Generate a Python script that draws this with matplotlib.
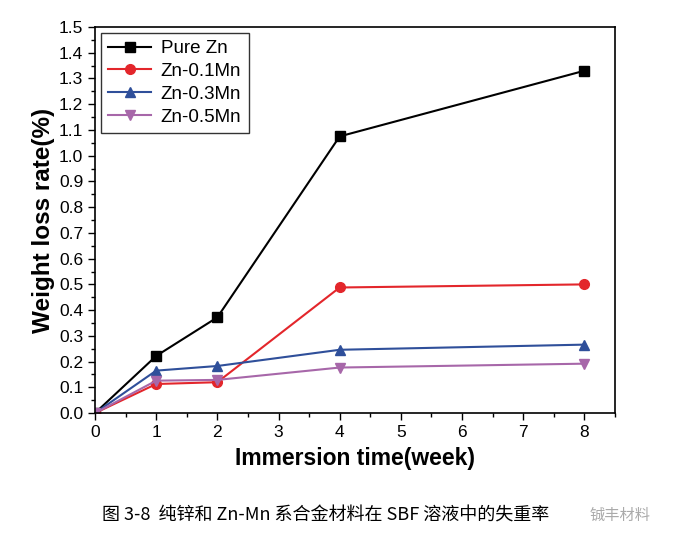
import matplotlib.pyplot as plt
from matplotlib.ticker import MultipleLocator

plt.rcParams['font.family'] = ['Liberation Sans', 'DejaVu Sans']

# 浸泡时间 (week)
weeks = [0, 1, 2, 4, 8]
pure_zn = [0.0, 0.222, 0.372, 1.075, 1.330]
zn_01mn = [0.0, 0.113, 0.120, 0.488, 0.500]
zn_03mn = [0.0, 0.165, 0.183, 0.246, 0.266]
zn_05mn = [0.0, 0.126, 0.129, 0.177, 0.192]

series = [
    ('Pure Zn', pure_zn, 'black', 's'),
    ('Zn-0.1Mn', zn_01mn, '#e3262b', 'o'),
    ('Zn-0.3Mn', zn_03mn, '#2f4f9a', '^'),
    ('Zn-0.5Mn', zn_05mn, '#a767a9', 'v'),
]

fig = plt.figure(figsize=(6.85, 5.4), dpi=100)
ax = fig.add_axes([0.1387, 0.235, 0.759, 0.715])

for name, vals, c, m in series:
    ax.plot(weeks, vals, color=c, marker=m, markersize=7, linewidth=1.5, label=name)

ax.set_xlim(0, 8.5)
ax.set_ylim(0, 1.5)
ax.xaxis.set_major_locator(MultipleLocator(1))
ax.xaxis.set_minor_locator(MultipleLocator(0.5))
ax.yaxis.set_major_locator(MultipleLocator(0.1))
ax.yaxis.set_minor_locator(MultipleLocator(0.05))
ax.yaxis.set_major_formatter(plt.FormatStrFormatter('%.1f'))
ax.tick_params(which='major', direction='out', length=5, width=1, labelsize=12.5)
ax.tick_params(which='minor', direction='out', length=3, width=1)
for s in ax.spines.values():
    s.set_linewidth(1.2)

ax.set_xlabel('Immersion time(week)', fontsize=16.5, fontweight='bold', labelpad=5)
ax.set_ylabel('Weight loss rate(%)', fontsize=17.5, fontweight='bold', labelpad=3)

leg = ax.legend(loc='upper left', fontsize=13.5, frameon=True, fancybox=False,
                edgecolor='black', handlelength=2.3, borderpad=0.4,
                labelspacing=0.3, handletextpad=0.5, borderaxespad=0.3)
leg.get_frame().set_linewidth(1.0)

# 图注
fig.text(0.475, 0.046, '图 3-8  纯锌和 Zn-Mn 系合金材料在 SBF 溶液中的失重率',
         ha='center', va='center', fontsize=13,
         family=['Noto Sans CJK SC', 'DejaVu Sans'])
fig.text(0.905, 0.046, '铖丰材料', ha='center', va='center', fontsize=11,
         color='#aaaaaa', family=['Noto Sans CJK SC', 'DejaVu Sans'])

plt.savefig('out.png', dpi=100)
